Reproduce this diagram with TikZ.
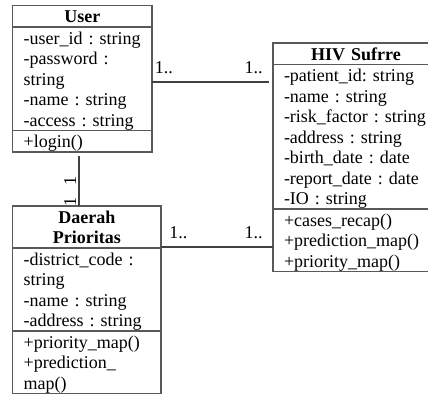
\documentclass[tikz,border=0pt]{standalone}
\usepackage{fontspec}
\setmainfont{Liberation Serif}
\usetikzlibrary{positioning}

\newcommand{\umlstrut}{\rule[-4pt]{0pt}{20.5pt}}
\frenchspacing

\tikzset{
    box/.style={draw=black!65, line width=1.1pt, outer sep=0pt, inner xsep=3pt, inner ysep=0.5pt,
        font=\fontsize{18}{20.5}\selectfont,
        execute at begin node=\umlstrut, execute at end node=\umlstrut},
    cw/.style={text width=#1-6pt},
    classname/.style={box, align=center, font=\fontsize{18}{20.5}\selectfont\bfseries},
    members/.style={box, align=left, execute at begin node={\leftskip=8pt\umlstrut}},
    link/.style={draw=black!75, line width=1.8pt},
    mult/.style={font=\fontsize{18}{20.5}\selectfont, inner sep=0pt}
}

\begin{document}
\begin{tikzpicture}[x=1pt, y=1pt]
    \useasboundingbox (0,0) rectangle (428,-394);
    \clip (0,0) rectangle (428,-394);

    % User
    \node[classname, cw=139.3pt, anchor=north west] (usertitle) at (12.7,-5.5) {User};
    \node[members, cw=139.3pt, below=0pt of usertitle] (userattr) {-user\_id : string\\-password :\\string\\-name : string\\-access : string};
    \node[members, cw=139.3pt, below=0pt of userattr] (userops) {+login()};

    % HIV Sufrre
    \node[classname, cw=166pt, anchor=north west] (hivtitle) at (273,-43) {HIV Sufrre};
    \node[members, cw=166pt, below=0pt of hivtitle] (hivattr) {-patient\_id: string\\-name : string\\-risk\_factor : string\\-address : string\\-birth\_date : date\\-report\_date : date\\-IO : string};
    \node[members, cw=166pt, below=0pt of hivattr] (hivops) {+cases\_recap()\\+prediction\_map()\\+priority\_map()};

    % Daerah Prioritas
    \node[classname, cw=148.3pt, anchor=north west] (daerahtitle) at (12.7,-206) {Daerah\\Prioritas};
    \node[members, cw=148.3pt, below=0pt of daerahtitle] (daerahattr) {-district\_code :\\string\\-name : string\\-address : string};
    \node[members, cw=148.3pt, below=0pt of daerahattr] (daerahops) {+priority\_map()\\+prediction\_\\map()};

    % associations
    \draw[link, shorten >=4pt] ([yshift=-3.25pt]userattr.east) -- ([yshift=-3.25pt]userattr.east -| hivattr.west)
        node[mult, pos=0, anchor=south west, xshift=2pt, yshift=7pt] {1..}
        node[mult, pos=1, anchor=south east, xshift=-9.5pt, yshift=7pt] {1..};
    \draw[link] ([yshift=1pt]daerahtitle.south east) -- ([yshift=1pt]daerahtitle.south east -| hivops.west)
        node[mult, pos=0, anchor=south west, xshift=7.5pt, yshift=7.5pt] {1..}
        node[mult, pos=1, anchor=south east, xshift=-9.5pt, yshift=7.5pt] {1..};
    \draw[link, shorten <=4pt] ([xshift=-3.3pt]userops.south) -- ([xshift=-3.3pt]userops.south |- daerahtitle.north)
        node[mult, pos=.54, rotate=90, anchor=south, inner sep=2pt] {1}
        node[mult, pos=.92, rotate=90, anchor=south, inner sep=2pt] {1};
\end{tikzpicture}
\end{document}
